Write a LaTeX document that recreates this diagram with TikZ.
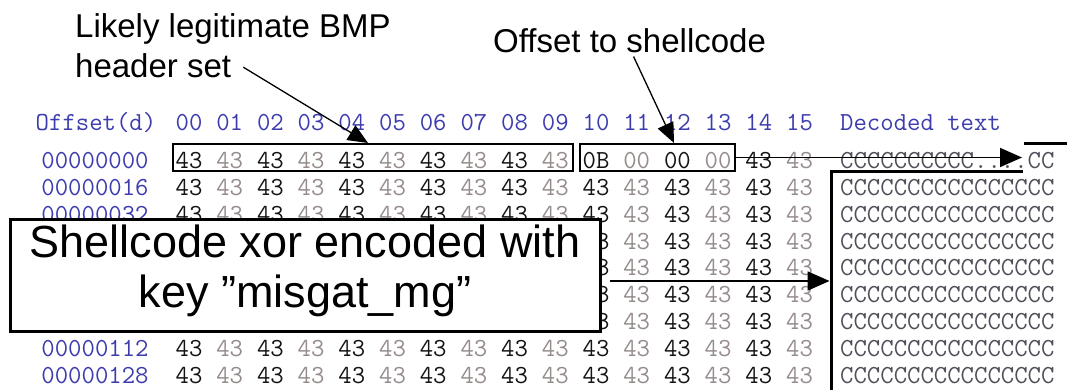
\documentclass[tikz,border=0pt]{standalone}
\usepackage{fontspec}
\setmainfont{Liberation Sans}
\usetikzlibrary{arrows.meta}
\definecolor{offblue}{RGB}{60,60,175}
\definecolor{bytegray}{RGB}{150,140,140}
\definecolor{bytedark}{RGB}{20,20,20}
\definecolor{decgray}{RGB}{80,80,90}
\begin{document}
\begin{tikzpicture}[x=1pt,y=1pt,
  hex/.style={font=\fontsize{26}{26}\selectfont\ttfamily, inner sep=0pt, anchor=base},
  hexw/.style={hex, anchor=base west},
  annot/.style={font=\fontsize{33}{40}\selectfont, inner sep=0pt, anchor=base west, text=black},
  bigtext/.style={font=\fontsize{45}{50}\selectfont, inner sep=0pt, anchor=base, text=black},
  hbox/.style={draw=black, line width=2.8pt, inner sep=0pt, rectangle},
  bigbox/.style={draw=black, fill=white, line width=3pt, inner sep=0pt, rectangle},
  annarrow/.style={draw=black, line width=1.3pt, -{Triangle[length=20pt,width=17pt]}},
  harrow/.style={draw=black, line width=1.8pt, -{Triangle[length=22pt,width=19pt]}},
  brk/.style={draw=black, line width=3pt}
]
\useasboundingbox (0,0) rectangle (1067,-390);
\fill[white] (0,0) rectangle (1067,-390);

% header row
\node[hex, text=offblue] (hoff) at (96,-131) {Offset(d)};
\foreach \k in {0,...,15} {
  \node[hex, text=offblue] (col\k) at ({189+40.7*\k},-131) {\ifnum\k<10 0\fi\k};
}
\node[hexw, text=offblue] (hdec) at (840,-131) {Decoded text};

% data rows
\foreach \r in {0,...,8} {
  \pgfmathtruncatemacro\ofs{16*\r}
  \pgfmathsetmacro\yy{-(160.5+26.9*\r+7.8)}
  \node[hex, text=offblue] (off\r) at (95,\yy)
    {\ifnum\ofs<10 0000000\ofs\else\ifnum\ofs<100 000000\ofs\else 00000\ofs\fi\fi};
  \ifnum\r=0
    \foreach \v [count=\kk from 0] in {43,43,43,43,43,43,43,43,43,43,0B,00,00,00,43,43} {
      \ifodd\kk\def\cc{bytegray}\else\def\cc{bytedark}\fi
      \node[hex, text=\cc] (b\r-\kk) at ({189+40.7*\kk},\yy) {\v};
    }
    \node[hexw, text=decgray] (dec\r) at (840,\yy) {CCCCCCCCCC....CC};
  \else
    \foreach \kk in {0,...,15} {
      \ifodd\kk\def\cc{bytegray}\else\def\cc{bytedark}\fi
      \node[hex, text=\cc] (b\r-\kk) at ({189+40.7*\kk},\yy) {43};
    }
    \node[hexw, text=decgray] (dec\r) at (840,\yy) {CCCCCCCCCCCCCCCC};
  \fi
}

% boxes around header bytes and offset
\node[hbox, minimum width=400pt, minimum height=27pt] (bmphdr) at (373,-157.5) {};
\node[hbox, minimum width=155pt, minimum height=27pt] (shoff) at (657.5,-157.5) {};

% outline of decoded shellcode region
\coordinate (k1) at (1067,-144);
\coordinate (k2) at (1024,-144);
\coordinate (k3) at (1023,-172);
\coordinate (k4) at (831,-172);
\coordinate (k5) at (831,-392);
\draw[brk] (k1) -- (k2);
\draw[brk] (k3) -- (k4) -- (k5);

% annotations
\node[annot] (lblA) at (75,-38) {Likely legitimate BMP};
\node[annot] (lblB) at (75,-78) {header set};
\node[annot] (lblC) at (493,-53) {Offset to shellcode};
\coordinate (t1) at (368,-143);
\coordinate (t2) at (674,-143);
\draw[annarrow] ([xshift=12pt,yshift=-1pt]lblB.east) -- (t1);
\draw[annarrow] ([xshift=4pt,yshift=-3pt]lblC.south) -- (t2);

% arrow from offset box to start of shellcode
\coordinate (dectip) at (1022,-157.5);
\draw[harrow] (shoff.east) -- (dectip);

% shellcode box
\node[bigbox, minimum width=590pt, minimum height=112pt] (scbox) at (305,-275) {};
\node[bigtext] (sc1) at (305,-257) {Shellcode xor encoded with};
\node[bigtext] (sc2) at (305,-307) {key ”misgat\_mg”};
\coordinate (sctip) at (829.5,-281);
\draw[harrow] ([xshift=8pt,yshift=-6pt]scbox.east) -- (sctip);
\end{tikzpicture}
\end{document}
